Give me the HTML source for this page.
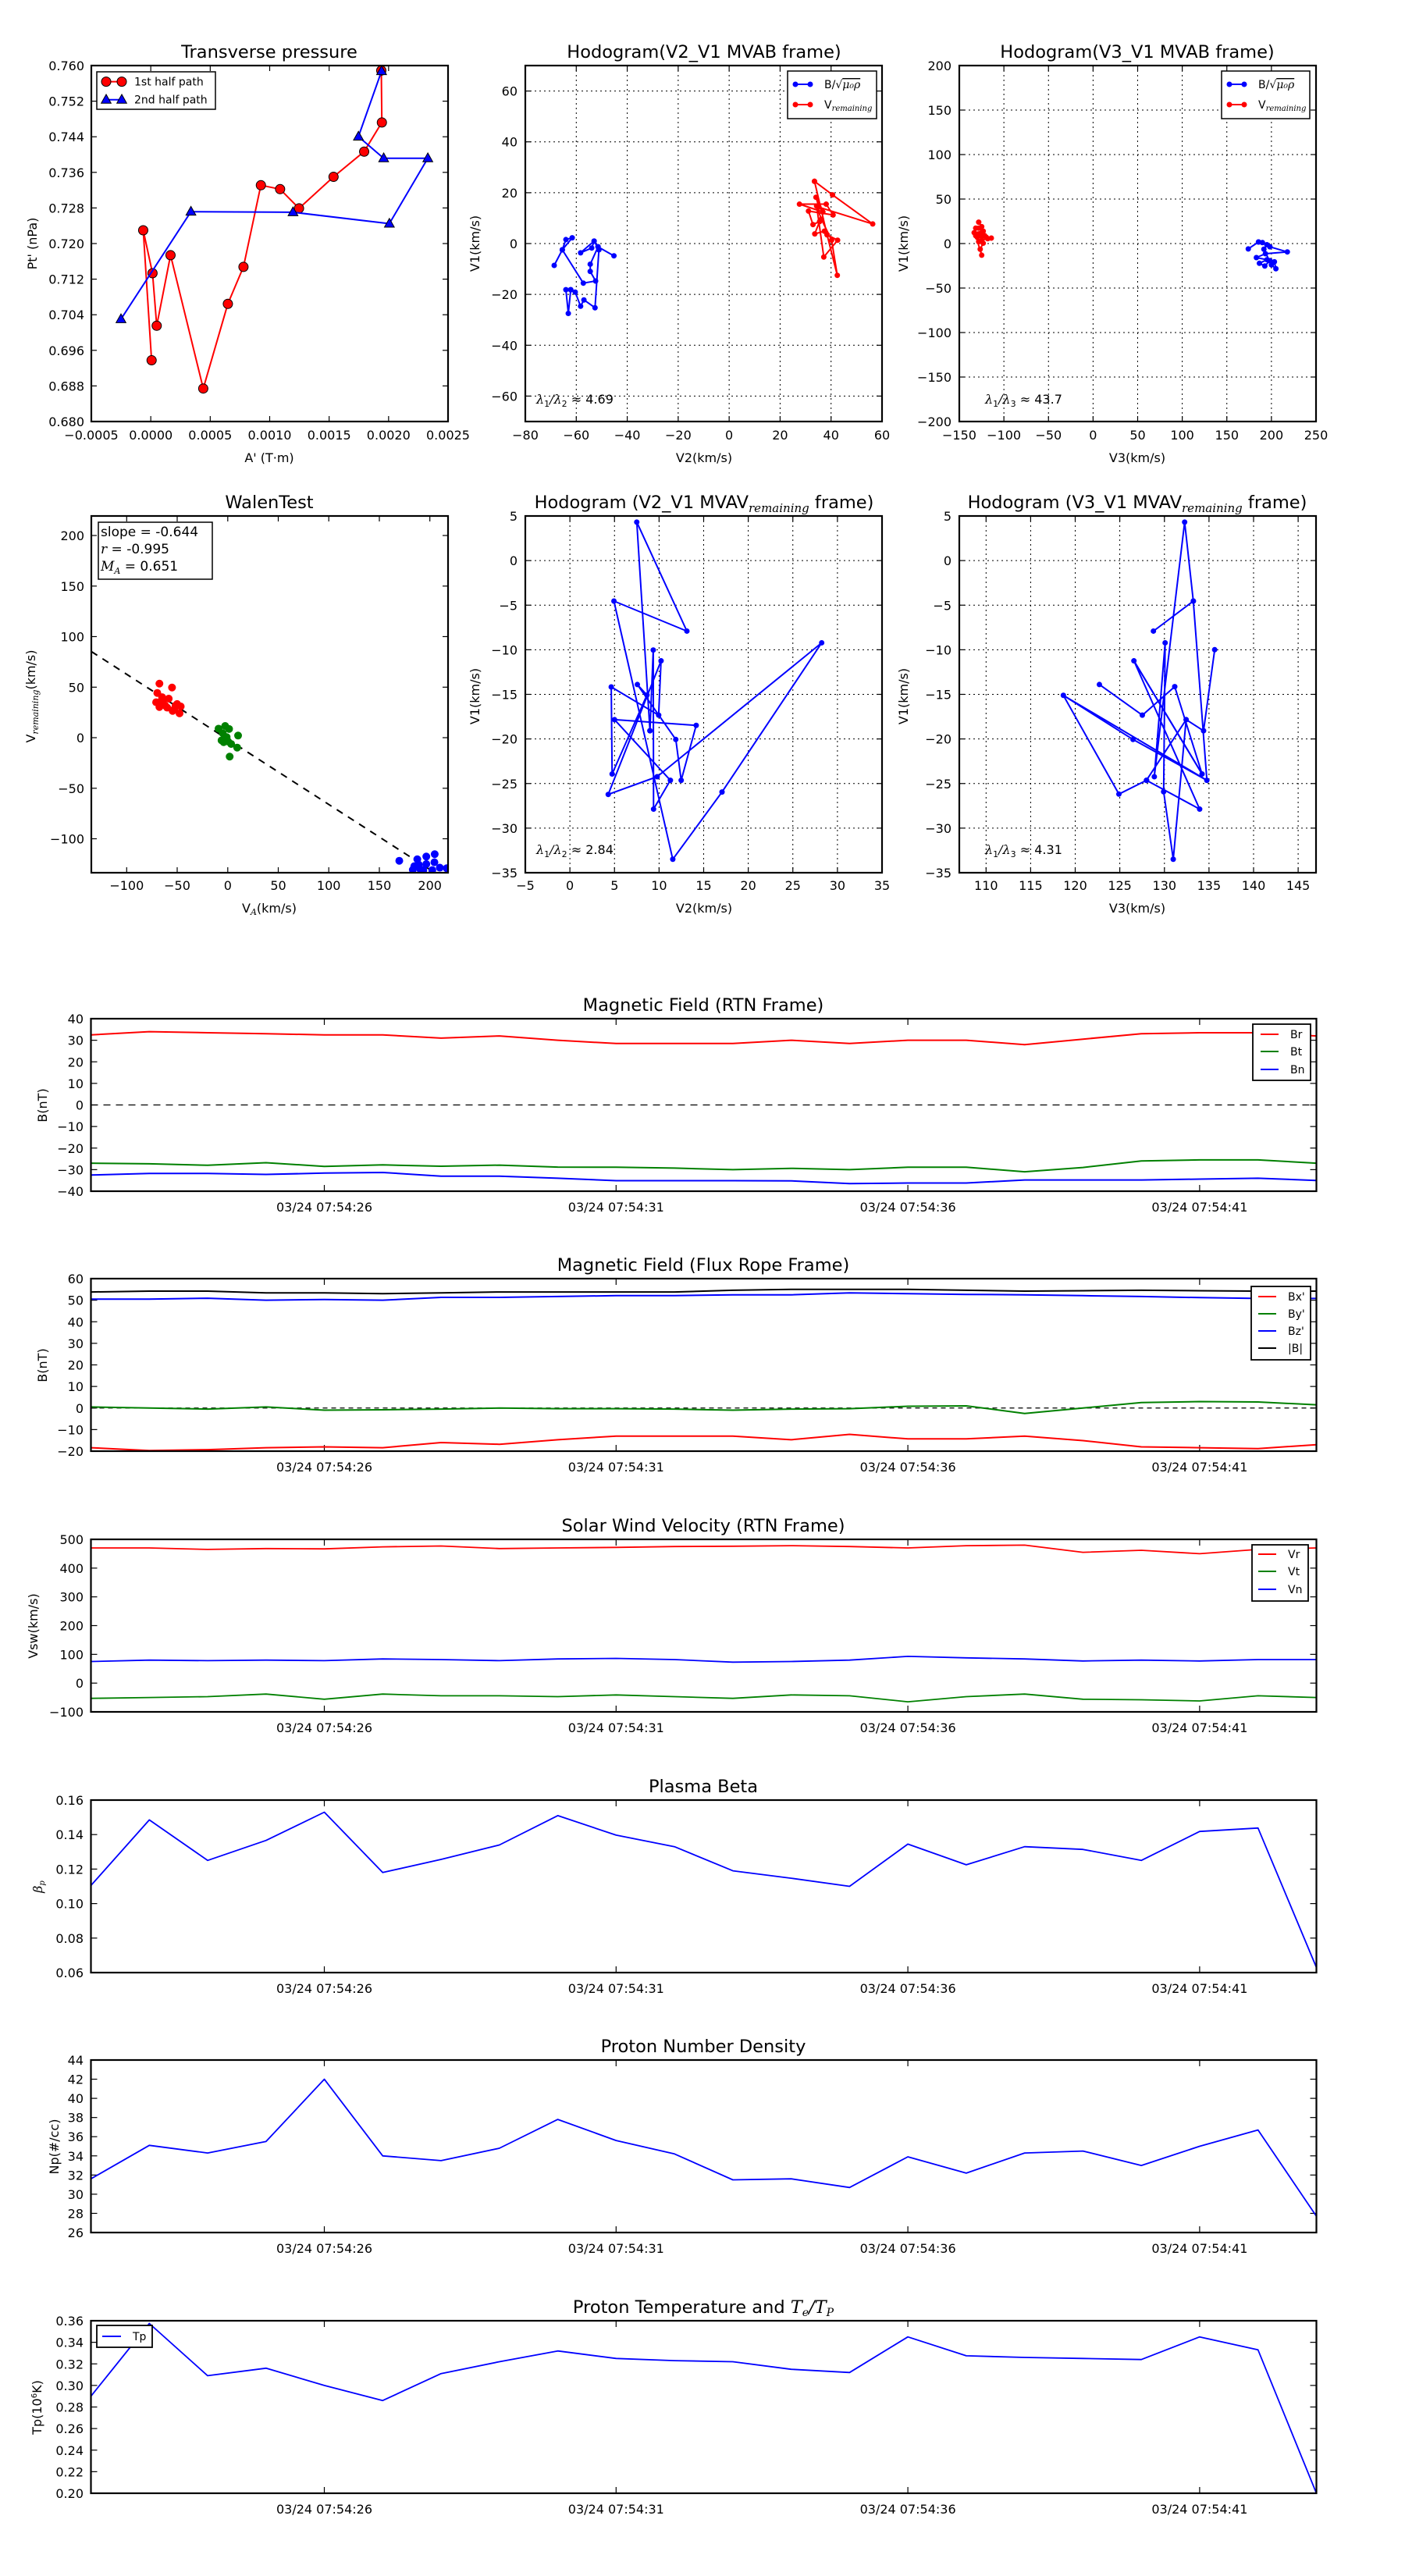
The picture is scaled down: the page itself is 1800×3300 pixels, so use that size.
<!DOCTYPE html>
<html><head><meta charset="utf-8"><style>
html,body{margin:0;padding:0;background:#fff;}
svg{display:block;font-family:"DejaVu Sans","Liberation Sans",sans-serif;}
.t{font-size:22.5px;text-anchor:middle;}
.tk{font-size:16px;}
.r{text-anchor:end;}
.m{text-anchor:middle;}
.lg{font-size:14px;}
.mi{font-family:"DejaVu Serif","Liberation Serif",serif;font-style:italic;}
</style></head><body>
<svg id="s" width="1800" height="3300" viewBox="0 0 1800 3300" xmlns="http://www.w3.org/2000/svg">
<rect width="1800" height="3300" fill="#fff"/>
<g id="d"></g>
<g id="txt">
<!-- Titles -->
<text class="t" x="345" y="74">Transverse pressure</text>
<text class="t" x="902" y="74">Hodogram(V2_V1 MVAB frame)</text>
<text class="t" x="1457" y="74">Hodogram(V3_V1 MVAB frame)</text>
<text class="t" x="345" y="651">WalenTest</text>
<text class="t" x="902" y="651">Hodogram (V2_V1 MVAV<tspan class="mi" font-size="15" dy="5">remaining</tspan><tspan dy="-5"> frame)</tspan></text>
<text class="t" x="1457" y="651">Hodogram (V3_V1 MVAV<tspan class="mi" font-size="15" dy="5">remaining</tspan><tspan dy="-5"> frame)</tspan></text>
<text class="t" x="901" y="1295">Magnetic Field (RTN Frame)</text>
<text class="t" x="901" y="1628">Magnetic Field (Flux Rope Frame)</text>
<text class="t" x="901" y="1962">Solar Wind Velocity (RTN Frame)</text>
<text class="t" x="901" y="2296">Plasma Beta</text>
<text class="t" x="901" y="2629">Proton Number Density</text>
<text class="t" x="901" y="2963">Proton Temperature and <tspan class="mi">T</tspan><tspan class="mi" font-size="14" dy="4">e</tspan><tspan class="mi" dy="-4">/T</tspan><tspan class="mi" font-size="14" dy="4">P</tspan></text>

<!-- Transverse pressure ticks -->
<g class="tk r">
<text x="108" y="90">0.760</text><text x="108" y="135.6">0.752</text><text x="108" y="181.2">0.744</text><text x="108" y="226.8">0.736</text><text x="108" y="272.4">0.728</text><text x="108" y="318">0.720</text><text x="108" y="363.6">0.712</text><text x="108" y="409.2">0.704</text><text x="108" y="454.8">0.696</text><text x="108" y="500.4">0.688</text><text x="108" y="546">0.680</text>
</g>
<g class="tk m">
<text x="117" y="563">−0.0005</text><text x="193.2" y="563">0.0000</text><text x="269.3" y="563">0.0005</text><text x="345.5" y="563">0.0010</text><text x="421.7" y="563">0.0015</text><text x="497.8" y="563">0.0020</text><text x="574" y="563">0.0025</text>
</g>
<text class="tk m" x="345" y="592">A' (T·m)</text>
<text class="tk m" transform="translate(47,312) rotate(-90)">Pt' (nPa)</text>
<g class="lg">
<text x="172" y="109.5">1st half path</text>
<text x="172" y="132.5">2nd half path</text>
</g>

<!-- Hodogram top-middle -->
<g class="tk r">
<text x="663" y="122.6">60</text><text x="663" y="187.7">40</text><text x="663" y="252.9">20</text><text x="663" y="318">0</text><text x="663" y="383.1">−20</text><text x="663" y="448.3">−40</text><text x="663" y="513.4">−60</text>
</g>
<g class="tk m">
<text x="673" y="563">−80</text><text x="738.3" y="563">−60</text><text x="803.6" y="563">−40</text><text x="868.9" y="563">−20</text><text x="934.1" y="563">0</text><text x="999.4" y="563">20</text><text x="1064.7" y="563">40</text><text x="1130" y="563">60</text>
</g>
<text class="tk m" x="902" y="592">V2(km/s)</text>
<text class="tk m" transform="translate(614,312) rotate(-90)">V1(km/s)</text>
<text class="tk" x="687" y="517"><tspan class="mi">λ</tspan><tspan font-size="11" dy="4">1</tspan><tspan class="mi" dy="-4">/λ</tspan><tspan font-size="11" dy="4">2</tspan><tspan dy="-4"> ≈ 4.69</tspan></text>
<g class="lg">
<text x="1056" y="113">B/√<tspan class="mi" text-decoration="overline">μ₀ρ</tspan></text>
<text x="1056" y="139">V<tspan class="mi" font-size="10" dy="3">remaining</tspan></text>
</g>

<!-- Hodogram top-right -->
<g class="tk r">
<text x="1219" y="90">200</text><text x="1219" y="147">150</text><text x="1219" y="204">100</text><text x="1219" y="261">50</text><text x="1219" y="318">0</text><text x="1219" y="375">−50</text><text x="1219" y="432">−100</text><text x="1219" y="489">−150</text><text x="1219" y="546">−200</text>
</g>
<g class="tk m">
<text x="1229" y="563">−150</text><text x="1286.1" y="563">−100</text><text x="1343.3" y="563">−50</text><text x="1400.4" y="563">0</text><text x="1457.5" y="563">50</text><text x="1514.6" y="563">100</text><text x="1571.8" y="563">150</text><text x="1628.9" y="563">200</text><text x="1686" y="563">250</text>
</g>
<text class="tk m" x="1457" y="592">V3(km/s)</text>
<text class="tk m" transform="translate(1163,312) rotate(-90)">V1(km/s)</text>
<text class="tk" x="1262" y="517"><tspan class="mi">λ</tspan><tspan font-size="11" dy="4">1</tspan><tspan class="mi" dy="-4">/λ</tspan><tspan font-size="11" dy="4">3</tspan><tspan dy="-4"> ≈ 43.7</tspan></text>
<g class="lg">
<text x="1612" y="113">B/√<tspan class="mi" text-decoration="overline">μ₀ρ</tspan></text>
<text x="1612" y="139">V<tspan class="mi" font-size="10" dy="3">remaining</tspan></text>
</g>

<!-- Walen -->
<g class="tk r">
<text x="108" y="692">200</text><text x="108" y="756.8">150</text><text x="108" y="821.5">100</text><text x="108" y="886.3">50</text><text x="108" y="951">0</text><text x="108" y="1015.8">−50</text><text x="108" y="1080.5">−100</text>
</g>
<g class="tk m">
<text x="162.3" y="1140">−100</text><text x="227" y="1140">−50</text><text x="291.8" y="1140">0</text><text x="356.5" y="1140">50</text><text x="421.2" y="1140">100</text><text x="486" y="1140">150</text><text x="550.7" y="1140">200</text>
</g>
<text class="tk m" x="345" y="1169">V<tspan class="mi" font-size="11" dy="3">A</tspan><tspan dy="-3">(km/s)</tspan></text>
<text class="tk m" transform="translate(45,892) rotate(-90)">V<tspan class="mi" font-size="11" dy="4">remaining</tspan><tspan dy="-4">(km/s)</tspan></text>
<g font-size="17">
<text x="129" y="687">slope = -0.644</text>
<text x="129" y="709"><tspan class="mi">r</tspan> = -0.995</text>
<text x="129" y="731"><tspan class="mi">M</tspan><tspan class="mi" font-size="11" dy="4">A</tspan><tspan dy="-4"> = 0.651</tspan></text>
</g>

<!-- Second row middle -->
<g class="tk r">
<text x="663" y="667">5</text><text x="663" y="724.1">0</text><text x="663" y="781.3">−5</text><text x="663" y="838.4">−10</text><text x="663" y="895.5">−15</text><text x="663" y="952.6">−20</text><text x="663" y="1009.8">−25</text><text x="663" y="1066.9">−30</text><text x="663" y="1124">−35</text>
</g>
<g class="tk m">
<text x="673" y="1140">−5</text><text x="730.1" y="1140">0</text><text x="787.3" y="1140">5</text><text x="844.4" y="1140">10</text><text x="901.5" y="1140">15</text><text x="958.6" y="1140">20</text><text x="1015.8" y="1140">25</text><text x="1072.9" y="1140">30</text><text x="1130" y="1140">35</text>
</g>
<text class="tk m" x="902" y="1169">V2(km/s)</text>
<text class="tk m" transform="translate(614,892) rotate(-90)">V1(km/s)</text>
<text class="tk" x="687" y="1094"><tspan class="mi">λ</tspan><tspan font-size="11" dy="4">1</tspan><tspan class="mi" dy="-4">/λ</tspan><tspan font-size="11" dy="4">2</tspan><tspan dy="-4"> ≈ 2.84</tspan></text>

<!-- Second row right -->
<g class="tk r">
<text x="1219" y="667">5</text><text x="1219" y="724.1">0</text><text x="1219" y="781.3">−5</text><text x="1219" y="838.4">−10</text><text x="1219" y="895.5">−15</text><text x="1219" y="952.6">−20</text><text x="1219" y="1009.8">−25</text><text x="1219" y="1066.9">−30</text><text x="1219" y="1124">−35</text>
</g>
<g class="tk m">
<text x="1263.3" y="1140">110</text><text x="1320.4" y="1140">115</text><text x="1377.5" y="1140">120</text><text x="1434.6" y="1140">125</text><text x="1491.8" y="1140">130</text><text x="1548.9" y="1140">135</text><text x="1606" y="1140">140</text><text x="1663.1" y="1140">145</text>
</g>
<text class="tk m" x="1457" y="1169">V3(km/s)</text>
<text class="tk m" transform="translate(1163,892) rotate(-90)">V1(km/s)</text>
<text class="tk" x="1262" y="1094"><tspan class="mi">λ</tspan><tspan font-size="11" dy="4">1</tspan><tspan class="mi" dy="-4">/λ</tspan><tspan font-size="11" dy="4">3</tspan><tspan dy="-4"> ≈ 4.31</tspan></text>

<!-- Time series x labels -->
<g class="tk m">
<text x="415.5" y="1552">03/24 07:54:26</text><text x="789.3" y="1552">03/24 07:54:31</text><text x="1163.1" y="1552">03/24 07:54:36</text><text x="1536.9" y="1552">03/24 07:54:41</text>
<text x="415.5" y="1885">03/24 07:54:26</text><text x="789.3" y="1885">03/24 07:54:31</text><text x="1163.1" y="1885">03/24 07:54:36</text><text x="1536.9" y="1885">03/24 07:54:41</text>
<text x="415.5" y="2219">03/24 07:54:26</text><text x="789.3" y="2219">03/24 07:54:31</text><text x="1163.1" y="2219">03/24 07:54:36</text><text x="1536.9" y="2219">03/24 07:54:41</text>
<text x="415.5" y="2553">03/24 07:54:26</text><text x="789.3" y="2553">03/24 07:54:31</text><text x="1163.1" y="2553">03/24 07:54:36</text><text x="1536.9" y="2553">03/24 07:54:41</text>
<text x="415.5" y="2886">03/24 07:54:26</text><text x="789.3" y="2886">03/24 07:54:31</text><text x="1163.1" y="2886">03/24 07:54:36</text><text x="1536.9" y="2886">03/24 07:54:41</text>
<text x="415.5" y="3220">03/24 07:54:26</text><text x="789.3" y="3220">03/24 07:54:31</text><text x="1163.1" y="3220">03/24 07:54:36</text><text x="1536.9" y="3220">03/24 07:54:41</text>
</g>
<!-- RTN y -->
<g class="tk r">
<text x="107" y="1311">40</text><text x="107" y="1338.6">30</text><text x="107" y="1366.3">20</text><text x="107" y="1393.9">10</text><text x="107" y="1421.5">0</text><text x="107" y="1449.1">−10</text><text x="107" y="1476.8">−20</text><text x="107" y="1504.4">−30</text><text x="107" y="1532">−40</text>
<text x="107" y="1644">60</text><text x="107" y="1671.6">50</text><text x="107" y="1699.3">40</text><text x="107" y="1726.9">30</text><text x="107" y="1754.5">20</text><text x="107" y="1782.1">10</text><text x="107" y="1809.8">0</text><text x="107" y="1837.4">−10</text><text x="107" y="1865">−20</text>
<text x="107" y="1978">500</text><text x="107" y="2014.8">400</text><text x="107" y="2051.7">300</text><text x="107" y="2088.5">200</text><text x="107" y="2125.3">100</text><text x="107" y="2162.2">0</text><text x="107" y="2199">−100</text>
<text x="107" y="2312">0.16</text><text x="107" y="2356.2">0.14</text><text x="107" y="2400.4">0.12</text><text x="107" y="2444.6">0.10</text><text x="107" y="2488.8">0.08</text><text x="107" y="2533">0.06</text>
<text x="107" y="2645">44</text><text x="107" y="2669.6">42</text><text x="107" y="2694.1">40</text><text x="107" y="2718.7">38</text><text x="107" y="2743.2">36</text><text x="107" y="2767.8">34</text><text x="107" y="2792.3">32</text><text x="107" y="2816.9">30</text><text x="107" y="2841.4">28</text><text x="107" y="2866">26</text>
<text x="107" y="2979">0.36</text><text x="107" y="3006.6">0.34</text><text x="107" y="3034.3">0.32</text><text x="107" y="3061.9">0.30</text><text x="107" y="3089.5">0.28</text><text x="107" y="3117.1">0.26</text><text x="107" y="3144.8">0.24</text><text x="107" y="3172.4">0.22</text><text x="107" y="3200">0.20</text>
</g>
<g class="tk m">
<text transform="translate(60,1416) rotate(-90)">B(nT)</text>
<text transform="translate(60,1749) rotate(-90)">B(nT)</text>
<text transform="translate(48,2083) rotate(-90)">Vsw(km/s)</text>
<text transform="translate(54,2417) rotate(-90)"><tspan class="mi">β</tspan><tspan class="mi" font-size="10" dy="3">p</tspan></text>
<text transform="translate(75,2750) rotate(-90)">Np(#/cc)</text>
<text transform="translate(53,3084) rotate(-90)">Tp(10<tspan font-size="10" dy="-6">6</tspan><tspan dy="6">K)</tspan></text>
</g>
<g class="lg">
<text x="1653" y="1330">Br</text><text x="1653" y="1352">Bt</text><text x="1653" y="1375">Bn</text>
<text x="1650" y="1666">Bx'</text><text x="1650" y="1688">By'</text><text x="1650" y="1710">Bz'</text><text x="1650" y="1732">|B|</text>
<text x="1650" y="1996">Vr</text><text x="1650" y="2018">Vt</text><text x="1650" y="2041">Vn</text>
<text x="170" y="2998">Tp</text>
</g>
</g>
</svg>
<script>
(function(){
var NS="http://www.w3.org/2000/svg",G=document.getElementById("d");
function el(n,a){var e=document.createElementNS(NS,n);for(var k in a)e.setAttribute(k,a[k]);G.appendChild(e);return e;}
function line(x1,y1,x2,y2,c,w,da){var a={x1:x1,y1:y1,x2:x2,y2:y2,stroke:c,"stroke-width":w};if(da)a["stroke-dasharray"]=da;el("line",a);}
function poly(p,c,w,da){var a={points:p.map(function(q){return q[0].toFixed(1)+","+q[1].toFixed(1)}).join(" "),fill:"none",stroke:c,"stroke-width":w,"stroke-linejoin":"round"};if(da)a["stroke-dasharray"]=da;el("polyline",a);}
function dot(x,y,r,c,sw){el("circle",{cx:x,cy:y,r:r,fill:c,stroke:sw?"#000":"none","stroke-width":sw||0});}
function tri(x,y,s,c){el("polygon",{points:(x)+","+(y-s*0.75)+" "+(x-s*0.7)+","+(y+s*0.5)+" "+(x+s*0.7)+","+(y+s*0.5),fill:c,stroke:"#000","stroke-width":1});}
function Z(ox,oy,a){return a.map(function(p){return [ox+p[0]/2.6,oy+p[1]/2.6];});}
function frame(x0,y0,x1,y1,xt,yt,grid,tl){
  tl=tl||7;
  xt.forEach(function(x){ if(grid)line(x,y0,x,y1,"#000",1,"2,4");
    line(x,y1,x,y1-tl,"#000",1.2);line(x,y0,x,y0+tl,"#000",1.2);});
  yt.forEach(function(y){ if(grid)line(x0,y,x1,y,"#000",1,"2,4");
    line(x0,y,x0+tl,y,"#000",1.2);line(x1,y,x1-tl,y,"#000",1.2);});
}
function box(x0,y0,x1,y1){el("rect",{x:x0,y:y0,width:x1-x0,height:y1-y0,fill:"none",stroke:"#000","stroke-width":2.2});}
function rng(a,b,n){var r=[];for(var i=0;i<n;i++)r.push(a+(b-a)*i/(n-1));return r;}

// ---- Transverse pressure
frame(117,84,574,540,rng(117,574,7),rng(84,540,11),false);
var red=Z(0,0,[[1270,235],[1272,408],[1213,505],[1111,589],[996,694],[933,630],[869,617],[811,889],[759,1012],[677,1294],[568,850],[522,1085],[508,910],[477,767],[505,1200]]);
var blu=Z(0,0,[[1271,237],[1194,455],[1278,527],[1425,527],[1297,745],[976,707],[636,705],[403,1063]]);
poly(red,"#f00",2);red.forEach(function(p){dot(p[0],p[1],6,"#f00",1);});
poly(blu,"#00f",2);blu.forEach(function(p){tri(p[0],p[1],9,"#00f");});
box(117,84,574,540);
el("rect",{x:124,y:92,width:152,height:48,fill:"#fff",stroke:"#000","stroke-width":1.5});
line(136,104.6,156,104.6,"#f00",2);dot(136,104.6,6,"#f00",1);dot(156,104.6,6,"#f00",1);
line(136,127.7,156,127.7,"#00f",2);tri(136,127.7,9,"#00f");tri(156,127.7,9,"#00f");

// ---- Hodogram top-middle
frame(673,84,1130,540,rng(673,1130,8),[116.6,181.7,246.9,312,377.1,442.3,507.4],true);
var hb=Z(600,0,[[286,884],[313,832],[346,792],[325,798],[313,832],[383,943],[424,936],[406,904],[406,880],[432,822],[485,852],[432,822],[419,803],[411,826],[374,842],[419,803],[435,832],[422,1025],[385,999],[374,1020],[356,973],[341,965],[333,1044],[325,965],[341,965]]);
poly(hb,"#00f",2);hb.forEach(function(p){dot(p[0],p[1],3.5,"#00f");});
var hr=Z(600,0,[[1153,604],[1213,649],[1347,746],[1168,690],[1158,657],[1181,706],[1103,680],[1192,680],[1215,716],[1133,703],[1148,748],[1170,738],[1154,779],[1186,770],[1195,782],[1230,800],[1184,856],[1160,686],[1176,730],[1210,800],[1229,917],[1195,782],[1153,604]]);
poly(hr,"#f00",2);hr.forEach(function(p){dot(p[0],p[1],3.5,"#f00");});
box(673,84,1130,540);
el("rect",{x:1009,y:91,width:114,height:61,fill:"#fff",stroke:"#000","stroke-width":1.5});
line(1017,108,1040,108,"#00f",2);dot(1019,108,3.5,"#00f");dot(1038,108,3.5,"#00f");
line(1017,134,1040,134,"#f00",2);dot(1019,134,3.5,"#f00");dot(1038,134,3.5,"#f00");

// ---- Hodogram top-right
frame(1229,84,1686,540,rng(1229,1686,9),rng(84,540,9),true);
var tr=Z(1200,0,[[140,740],[150,755],[130,760],[155,770],[125,775],[145,780],[160,785],[135,790],[182,793],[170,795],[150,800],[140,805],[155,810],[145,830],[150,850],[130,785],[165,790],[140,760]]);
poly(tr,"#f00",2);tr.forEach(function(p){dot(p[0],p[1],3.5,"#f00");});
var tb=Z(1200,0,[[1038,829],[1072,806],[1085,808],[1110,822],[1168,839],[1095,845],[1065,858],[1100,865],[1075,877],[1093,886],[1110,868],[1125,872],[1130,895],[1115,882],[1090,830],[1100,815],[1072,806]]);
poly(tb,"#00f",2);tb.forEach(function(p){dot(p[0],p[1],3.5,"#00f");});
box(1229,84,1686,540);
el("rect",{x:1565,y:91,width:113,height:61,fill:"#fff",stroke:"#000","stroke-width":1.5});
line(1573,108,1596,108,"#00f",2);dot(1575,108,3.5,"#00f");dot(1594,108,3.5,"#00f");
line(1573,134,1596,134,"#f00",2);dot(1575,134,3.5,"#f00");dot(1594,134,3.5,"#f00");

// ---- Walen
frame(117,661,574,1118,[162.3,227,291.8,356.5,421.2,486,550.7],[686,750.8,815.5,880.3,945,1009.8,1074.5],false);
line(117,600+610/2.6,1430/2.6,600+1335/2.6,"#000",2,"9,8");
var wr=[[531,717],[573,730],[524,748],[540,762],[562,767],[520,779],[537,775],[531,795],[557,797],[585,790],[575,808],[598,816],[602,793],[580,803],[550,790],[590,785],[545,770]];
var wg=[[728,867],[750,858],[763,868],[742,882],[755,895],[793,890],[738,906],[770,918],[790,930],[765,960],[748,900],[760,910],[745,912]];
var wb=[[1330,1307],[1390,1302],[1420,1293],[1448,1285],[1447,1312],[1465,1330],[1488,1332],[1375,1337],[1395,1320],[1410,1338],[1440,1338],[1380,1325],[1420,1318],[1400,1335]];
el("clipPath",{id:"cw"}).appendChild((function(){var r=document.createElementNS(NS,"rect");r.setAttribute("x",117);r.setAttribute("y",661);r.setAttribute("width",457);r.setAttribute("height",457);return r;})());
var gw=el("g",{"clip-path":"url(#cw)"});
[[wr,"#f00"],[wg,"#008000"],[wb,"#00f"]].forEach(function(s){Z(0,600,s[0]).forEach(function(p){var c=document.createElementNS(NS,"circle");c.setAttribute("cx",p[0]);c.setAttribute("cy",p[1]);c.setAttribute("r",5);c.setAttribute("fill",s[1]);gw.appendChild(c);});});
box(117,661,574,1118);
el("rect",{x:126,y:669,width:146,height:73,fill:"#fff",stroke:"#000","stroke-width":1.5});

// ---- Second row middle
var ry=rng(661,1118,9);
frame(673,661,1130,1118,rng(673,1130,9),ry,true);
var m2=Z(600,600,[[605,874],[561,179],[728,542],[485,442],[681,1302],[845,1078],[1177,581],[629,1027],[466,1086],[642,641],[634,822],[476,728],[479,1018],[595,755],[563,720],[691,903],[709,1039],[759,856],[487,837],[673,1039],[617,1135],[616,605],[605,874]]);
poly(m2,"#00f",2);m2.forEach(function(p){dot(p[0],p[1],3.5,"#00f");});
box(673,661,1130,1118);

// ---- Second row right
frame(1229,661,1686,1118,[1263.3,1320.4,1377.5,1434.6,1491.8,1548.9,1606,1663.1],ry,true);
var r2=Z(1200,600,[[542,720],[685,822],[793,727],[884,1018],[657,641],[876,1135],[699,1039],[831,837],[788,1302],[756,1077],[761,581],[725,1027],[826,179],[855,442],[722,542],[855,442],[900,1039],[422,756],[607,1085],[699,1039],[831,837],[889,874],[926,604]]);
poly(r2,"#00f",2);r2.forEach(function(p){dot(p[0],p[1],3.5,"#00f");});
var extra=Z(1200,600,[[422,756],[654,903],[900,1039]]);poly(extra,"#00f",2);dot(extra[1][0],extra[1][1],3.5,"#00f");
var e2=Z(1200,600,[[657,641],[884,1018]]);poly(e2,"#00f",2);
box(1229,661,1686,1118);

// ---- Time series
var X0=116.5,X1=1686.5,H=221;
var xt=[415.5,789.3,1163.1,1536.9];
function ts(T,vmin,vmax,nt,series,zero,zda){
  frame(X0,T,X1,T+H,xt,rng(T,T+H,nt),false,8);
  function Y(v){return T+(vmax-v)/(vmax-vmin)*H;}
  if(zero)line(X0,Y(0),X1,Y(0),"#000",1.3,zda);
  series.forEach(function(s){poly(s[0].map(function(v,i){return [X0+i*74.76,Y(v)];}),s[1],s[2]||2);});
  box(X0,T,X1,T+H);
}
ts(1305,-40,40,9,[
 [[32.5,34,33.5,33,32.5,32.5,31,32,30,28.5,28.5,28.5,30,28.5,30,30,28,30.5,33,33.5,33.5,32],"#f00"],
 [[-27,-27.3,-28,-26.8,-28.5,-27.8,-28.4,-27.9,-28.8,-28.9,-29.3,-30,-29.4,-30,-28.9,-28.9,-31,-29,-26,-25.5,-25.5,-27],"#008000"],
 [[-32.5,-31.8,-31.8,-32.2,-31.6,-31.3,-33,-33,-34,-35.1,-35.1,-35.1,-35.2,-36.5,-36.2,-36.2,-34.8,-34.8,-34.8,-34.4,-34,-35],"#00f"]
],true,"9,7");
ts(1638,-20,60,9,[
 [[-18.4,-19.7,-19.3,-18.4,-18,-18.4,-16,-16.8,-14.7,-13,-13,-13,-14.7,-12.2,-14.3,-14.3,-13,-15.1,-18,-18.4,-18.8,-17],"#f00"],
 [[0.5,0,-0.5,0.5,-1,-0.8,-0.5,0,-0.3,-0.3,-0.5,-1,-0.5,-0.3,0.8,1,-2.5,0,2.5,3,2.8,1.5],"#008000"],
 [[50.5,50.5,50.9,50,50.3,50,51.3,51.3,51.7,52.1,52.1,52.5,52.5,53.4,53,52.7,52.5,52.1,51.7,51.2,50.8,50.8],"#00f"],
 [[53.8,54.2,54.2,53.4,53.4,53,53.4,53.8,53.8,53.8,53.8,54.6,55,55,55,54.6,54.2,54.4,54.6,54.4,54.2,54.2],"#000"]
],true,"6,5");
ts(1972,-100,500,7,[
 [[470,470,465,468,467,474,477,468,470,472,475,476,478,475,470,478,480,455,462,450,465,470],"#f00",1.8],
 [[-53,-50,-47,-38,-56,-38,-44,-44,-47,-41,-47,-53,-41,-44,-65,-47,-38,-56,-58,-62,-44,-50],"#008000",1.8],
 [[75,80,78,80,78,84,82,78,84,86,82,73,75,80,93,88,84,77,80,77,82,82],"#00f",1.8]
]);
ts(2306,0.06,0.16,6,[[[0.1105,0.1485,0.125,0.1366,0.153,0.118,0.1256,0.134,0.151,0.1397,0.133,0.119,0.1147,0.110,0.1345,0.1225,0.133,0.1314,0.125,0.1418,0.1438,0.063],"#00f",1.8]]);
ts(2639,26,44,10,[[[31.6,35.1,34.3,35.5,42.0,34.0,33.5,34.8,37.8,35.6,34.2,31.5,31.6,30.7,33.9,32.2,34.3,34.5,33.0,35.0,36.7,27.7],"#00f",1.8]]);
ts(2973,0.20,0.36,9,[[[0.29,0.3575,0.309,0.316,0.30,0.286,0.311,0.322,0.332,0.325,0.323,0.322,0.315,0.312,0.345,0.3275,0.326,0.325,0.324,0.345,0.333,0.20],"#00f",1.8]]);

// legends
function lgbox(x0,y0,x1,y1,items,lx0,lx1){
  el("rect",{x:x0,y:y0,width:x1-x0,height:y1-y0,fill:"#fff",stroke:"#000","stroke-width":1.8});
  items.forEach(function(it){line(lx0,it[0],lx1,it[0],it[1],2);});
}
lgbox(1605,1312,1679,1384,[[1325,"#f00"],[1347,"#008000"],[1370,"#00f"]],1615,1638);
lgbox(1603,1648,1679,1742,[[1661,"#f00"],[1683,"#008000"],[1705,"#00f"],[1727,"#000"]],1612,1635);
lgbox(1604,1979,1676,2051,[[1991,"#f00"],[2013,"#008000"],[2036,"#00f"]],1612,1635);
lgbox(124,2979,195,3007,[[2993,"#00f"]],131,155);
// bring text to front
var s=document.getElementById("s");s.appendChild(document.getElementById("txt"));
})();
</script>
</body></html>
